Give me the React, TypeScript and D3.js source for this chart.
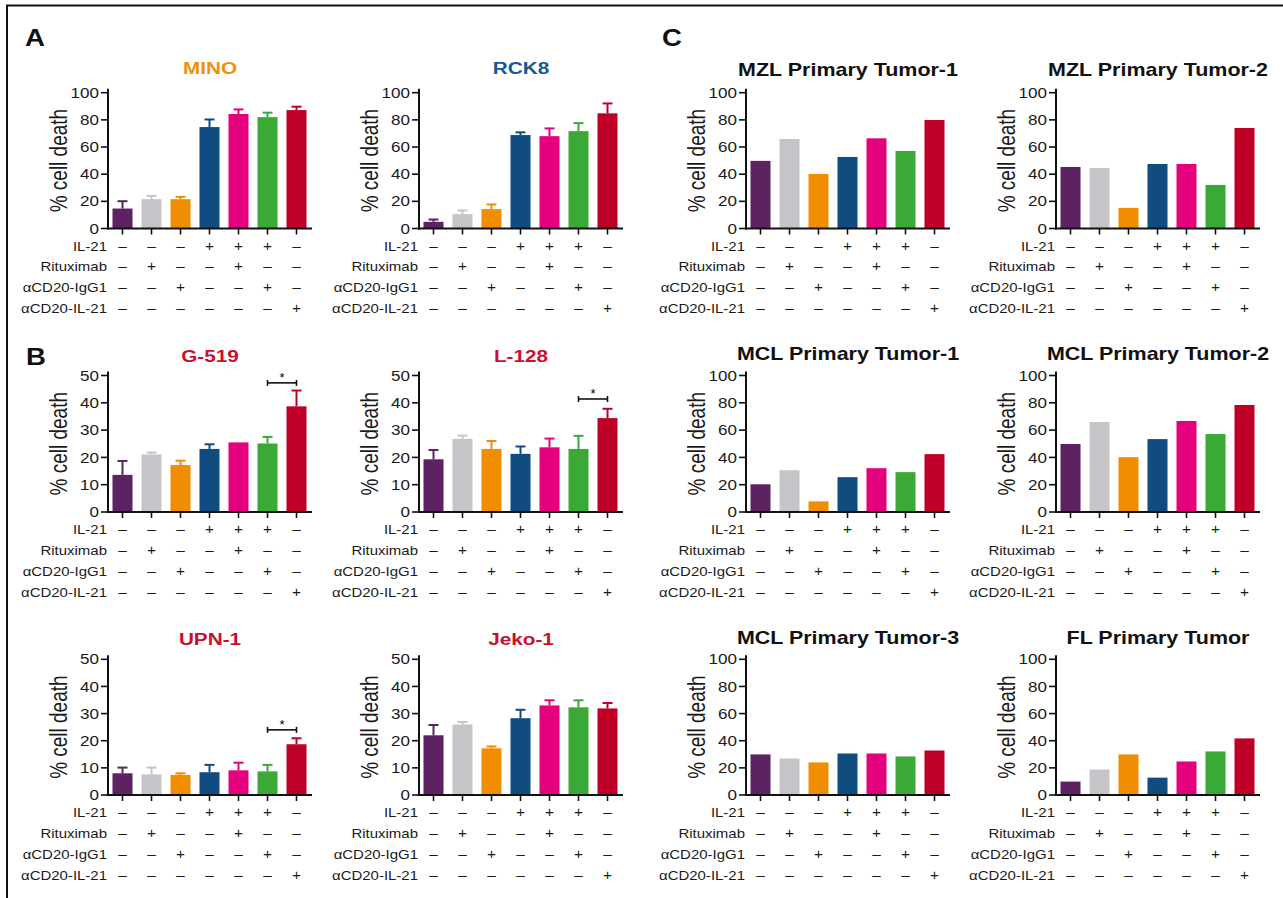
import React from 'react';
import * as d3 from 'd3';

// ---------- data ----------
const conditions = ['c1', 'c2', 'c3', 'c4', 'c5', 'c6', 'c7'];
const barColors = ['#5C2262', '#C6C4C8', '#F18D00', '#114C80', '#E5007D', '#3AA935', '#BF0026'];
const rowLabels = ['IL-21', 'Rituximab', 'αCD20-IgG1', 'αCD20-IL-21'];
const il21Signs = ['–', '–', '–', '+', '+', '+', '–'];
const rituximabSigns = ['–', '+', '–', '–', '+', '–', '–'];
const igg1Signs = ['–', '–', '+', '–', '–', '+', '–'];
const conjSigns = ['–', '–', '–', '–', '–', '–', '+'];
const signRows = [il21Signs, rituximabSigns, igg1Signs, conjSigns];

const minoMean = [14.7, 21.6, 21.6, 74.7, 84.3, 82.0, 87.2];
const minoErr = [5.4, 2.4, 1.7, 5.6, 3.4, 3.3, 2.5];
const rck8Mean = [4.9, 10.6, 14.3, 68.8, 68.0, 71.7, 84.8];
const rck8Err = [1.7, 2.7, 3.4, 2.0, 5.7, 5.9, 7.3];
const g519Mean = [13.6, 21.1, 17.2, 23.1, 25.5, 25.1, 38.7];
const g519Err = [5.1, 0.7, 1.6, 1.7, 0, 2.4, 5.8];
const l128Mean = [19.3, 26.8, 23.1, 21.3, 23.7, 23.1, 34.4];
const l128Err = [3.4, 1.2, 2.9, 2.7, 3.2, 4.8, 3.4];
const upn1Mean = [8.0, 7.6, 7.4, 8.4, 9.1, 8.7, 18.7];
const upn1Err = [2.1, 2.5, 0.6, 2.7, 2.8, 2.4, 2.2];
const jekoMean = [22.0, 26.0, 17.2, 28.3, 33.0, 32.3, 31.9];
const jekoErr = [3.8, 0.9, 0.7, 3.1, 1.9, 2.6, 2.0];

const mzl1Values = [49.8, 65.9, 40.2, 52.7, 66.4, 57.1, 79.9];
const mzl2Values = [45.3, 44.6, 15.2, 47.5, 47.5, 32.1, 74.0];
const mcl1Values = [20.3, 30.6, 7.8, 25.5, 32.1, 29.2, 42.4];
const mcl2Values = [49.8, 65.9, 40.2, 53.4, 66.7, 57.1, 78.4];
const mcl3Values = [29.9, 26.9, 24.0, 30.6, 30.6, 28.4, 32.8];
const flValues = [9.9, 18.8, 29.9, 12.8, 24.7, 32.1, 41.7];

const g519SigY = 47.3;
const l128SigY = 41.4;
const upn1SigY = 24.0;

// ---------- layout ----------
const FONT = '"Liberation Sans", Arial, Helvetica, sans-serif';
const SX = 1.2;
const colAxisX = [108, 419, 746, 1056];
const rowTop = [92.7, 375.5, 659.3];
const rowZero = [228.5, 512, 795];
const titleYLeft = [74, 362, 645];
const titleYRight = [76, 360, 643.5];

const ORANGE_T = '#F0900A';
const BLUE_T = '#175A91';
const RED_T = '#C8102E';

type TProps = {
  x: number; y: number; size: number; anchor?: string; weight?: string | number;
  fill?: string; sx?: number; children: React.ReactNode; dy?: string;
};
function T({ x, y, size, anchor = 'start', weight = 'normal', fill = '#1a1a1a', sx = SX, children, dy }: TProps) {
  return (
    <text
      transform={`translate(${x},${y}) scale(${sx},1)`}
      fontFamily={FONT}
      fontSize={size}
      fontWeight={weight}
      fill={fill}
      stroke="none"
      textAnchor={anchor}
      dy={dy}
    >
      {children}
    </text>
  );
}

type PanelProps = {
  title: string; titleColor: string; titleSize: number; titleSx: number; titleY: number;
  col: number; row: number; max: number; step: number;
  means: number[]; errs?: number[]; sig?: number;
};

function Panel({ title, titleColor, titleSize, titleSx, titleY, col, row, max, step, means, errs, sig }: PanelProps) {
  const axisX = colAxisX[col];
  const y0 = rowZero[row];
  const yTop = rowTop[row];
  const y = d3.scaleLinear().domain([0, max]).range([y0, yTop]);
  const x = d3.scaleBand<string>().domain(conditions).range([axisX, axisX + 203]).paddingInner(0.31).paddingOuter(0.155);
  const bw = x.bandwidth();
  const ticks = d3.range(0, max + step / 2, step);
  const cx = (i: number) => (x(conditions[i]) as number) + bw / 2;
  const black = '#111';
  return (
    <g>
      <T x={axisX + 102} y={titleY} size={titleSize} sx={titleSx} anchor="middle" weight="bold" fill={titleColor}>{title}</T>
      {means.map((v, i) => (
        <rect key={'b' + i} x={x(conditions[i])} y={y(v)} width={bw} height={y0 - y(v)} fill={barColors[i]} />
      ))}
      {errs && means.map((v, i) => errs[i] > 0 ? (
        <g key={'e' + i} stroke={barColors[i]} strokeWidth={2}>
          <line x1={cx(i)} x2={cx(i)} y1={y(v)} y2={y(v + errs[i])} />
          <line x1={cx(i) - 5} x2={cx(i) + 5} y1={y(v + errs[i])} y2={y(v + errs[i])} />
        </g>
      ) : null)}
      <line x1={axisX} x2={axisX} y1={y0 + 1} y2={yTop - 4} stroke={black} strokeWidth={2} />
      <line x1={axisX - 1} x2={axisX + 204} y1={y0} y2={y0} stroke={black} strokeWidth={2} />
      {ticks.map((t) => (
        <g key={'t' + t}>
          <line x1={axisX - 7} x2={axisX} y1={y(t)} y2={y(t)} stroke={black} strokeWidth={1.6} />
          <T x={axisX - 9} y={y(t)} size={14.2} sx={1.2} anchor="end" dy="0.36em">{t}</T>
        </g>
      ))}
      {conditions.map((c, i) => (
        <line key={'xt' + i} x1={cx(i)} x2={cx(i)} y1={y0} y2={y0 + 6} stroke={black} strokeWidth={1.6} />
      ))}
      <text
        transform={`translate(${axisX - 41},${(y0 + yTop) / 2}) rotate(-90) scale(1,1.3)`}
        fontFamily={FONT} fontSize={19} fill="#1a1a1a" textAnchor="middle"
      >% cell death</text>
      {rowLabels.map((lab, r) => (
        <g key={'r' + r}>
          <T x={axisX - 1} y={y0 + 22 + 20.9 * r} size={12.8} sx={1.17} anchor="end">{lab}</T>
          {signRows[r].map((s, i) => (
            <T key={'s' + i} x={cx(i)} y={y0 + 22 + 20.9 * r} size={14} sx={1.1} anchor="middle">{s}</T>
          ))}
        </g>
      ))}
      {sig !== undefined && (
        <g>
          <g stroke={black} strokeWidth={1.6}>
            <line x1={cx(5)} x2={cx(6)} y1={y(sig)} y2={y(sig)} />
            <line x1={cx(5)} x2={cx(5)} y1={y(sig) - 3} y2={y(sig) + 3} />
            <line x1={cx(6)} x2={cx(6)} y1={y(sig) - 3} y2={y(sig) + 3} />
          </g>
          <T x={(cx(5) + cx(6)) / 2} y={y(sig) - 0.5} size={13} sx={1} anchor="middle" fill="#000">*</T>
        </g>
      )}
    </g>
  );
}

export default function App() {
  return (
    <svg width={1283} height={898} style={{ position: 'absolute', left: 0, top: 0, background: '#fff' }}>
      <rect x={0} y={0} width={1283} height={898} fill="#fff" />
      <line x1={6} x2={1283} y1={5.5} y2={5.5} stroke="#111" strokeWidth={2} />
      <line x1={7} x2={7} y1={5} y2={898} stroke="#111" strokeWidth={2} />
      <T x={25} y={46} size={23} weight="bold" sx={1.2} fill="#111">A</T>
      <T x={26} y={365} size={23} weight="bold" sx={1.2} fill="#111">B</T>
      <T x={662} y={46} size={23} weight="bold" sx={1.2} fill="#111">C</T>

      <Panel title="MINO" titleColor={ORANGE_T} titleSize={17} titleSx={1.22} titleY={titleYLeft[0]} col={0} row={0} max={100} step={20} means={minoMean} errs={minoErr} />
      <Panel title="RCK8" titleColor={BLUE_T} titleSize={17} titleSx={1.22} titleY={titleYLeft[0]} col={1} row={0} max={100} step={20} means={rck8Mean} errs={rck8Err} />
      <Panel title="G-519" titleColor={RED_T} titleSize={17} titleSx={1.22} titleY={titleYLeft[1]} col={0} row={1} max={50} step={10} means={g519Mean} errs={g519Err} sig={g519SigY} />
      <Panel title="L-128" titleColor={RED_T} titleSize={17} titleSx={1.22} titleY={titleYLeft[1]} col={1} row={1} max={50} step={10} means={l128Mean} errs={l128Err} sig={l128SigY} />
      <Panel title="UPN-1" titleColor={RED_T} titleSize={17} titleSx={1.22} titleY={titleYLeft[2]} col={0} row={2} max={50} step={10} means={upn1Mean} errs={upn1Err} sig={upn1SigY} />
      <Panel title="Jeko-1" titleColor={RED_T} titleSize={17} titleSx={1.22} titleY={titleYLeft[2]} col={1} row={2} max={50} step={10} means={jekoMean} errs={jekoErr} />

      <Panel title="MZL Primary Tumor-1" titleColor="#111" titleSize={19} titleSx={1.13} titleY={titleYRight[0]} col={2} row={0} max={100} step={20} means={mzl1Values} />
      <Panel title="MZL Primary Tumor-2" titleColor="#111" titleSize={19} titleSx={1.13} titleY={titleYRight[0]} col={3} row={0} max={100} step={20} means={mzl2Values} />
      <Panel title="MCL Primary Tumor-1" titleColor="#111" titleSize={19} titleSx={1.13} titleY={titleYRight[1]} col={2} row={1} max={100} step={20} means={mcl1Values} />
      <Panel title="MCL Primary Tumor-2" titleColor="#111" titleSize={19} titleSx={1.13} titleY={titleYRight[1]} col={3} row={1} max={100} step={20} means={mcl2Values} />
      <Panel title="MCL Primary Tumor-3" titleColor="#111" titleSize={19} titleSx={1.13} titleY={titleYRight[2]} col={2} row={2} max={100} step={20} means={mcl3Values} />
      <Panel title="FL Primary Tumor" titleColor="#111" titleSize={19} titleSx={1.13} titleY={titleYRight[2]} col={3} row={2} max={100} step={20} means={flValues} />
    </svg>
  );
}
